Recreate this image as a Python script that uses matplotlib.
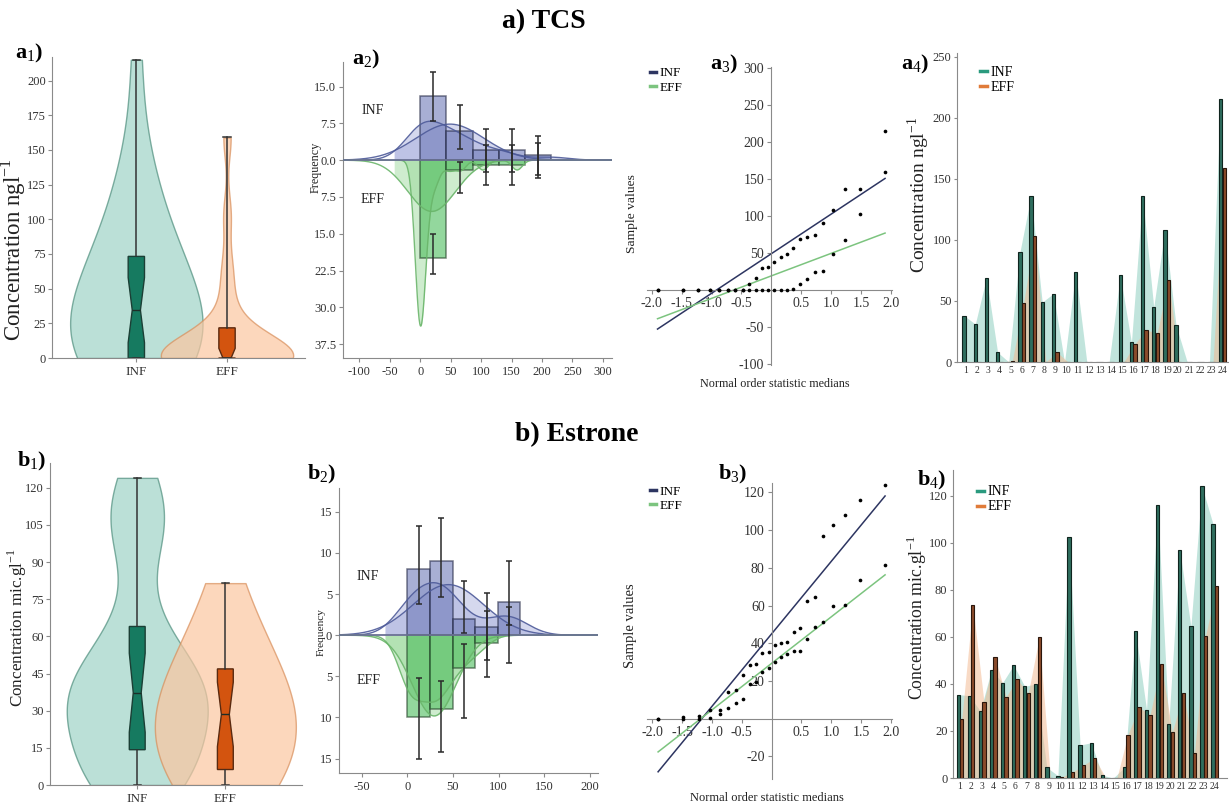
import numpy as np
import matplotlib
matplotlib.use("Agg")
import matplotlib.pyplot as plt
from matplotlib import cbook
from matplotlib.lines import Line2D
from statistics import NormalDist

# ---------------- data ----------------
samples = np.arange(1, 25)
groups = ["INF", "EFF"]

tcs_inf = [38, 31, 69, 8, 0, 90, 136, 49, 56, 0, 74, 0, 0, 0, 71, 16, 136, 45, 108, 30, 0, 0, 0, 215]
tcs_eff = [0, 0, 0, 0, 1, 48, 103, 0, 8, 0, 0, 0, 0, 0, 0, 15, 26, 24, 67, 0, 0, 0, 0, 159]

est_inf = [35.5, 35, 28.5, 46, 40.5, 48, 39, 40, 4.5, 1, 102.5, 14, 15, 1.2, 0, 4.5,
           62.5, 29, 116, 23, 97, 64.5, 124, 108]
est_eff = [25, 73.5, 32.5, 51.5, 34.5, 42, 36, 60, 0, 0.3, 2.5, 5.5, 8.5, 0, 0, 18.5,
           30, 27, 48.5, 19.5, 36, 10.5, 60.5, 81.5]

# error-bar ends (lower, upper) for each histogram bin; EFF is mirrored below zero
tcs_inf_err_lo = [8.0, 2.2, -2.4, -2.4, -3.0]
tcs_inf_err_hi = [17.9, 11.3, 6.4, 6.4, 5.0]
tcs_eff_err_lo = [-23.1, -6.6, -5.1, -5.1, -3.6]
tcs_eff_err_hi = [-15.1, -0.3, 3.0, 3.0, 3.6]

est_inf_err_lo = [3.8, 4.6, 0.3, -3.0, 1.3]
est_inf_err_hi = [13.3, 14.3, 6.6, 5.1, 9.0]
est_eff_err_lo = [-15.1, -14.2, -10.1, -5.1, -3.4]
est_eff_err_hi = [-5.2, -5.6, -1.1, 3.0, 3.4]

# ---------------- style ----------------
plt.rcParams["font.family"] = ["Liberation Serif", "DejaVu Serif"]
plt.rcParams["mathtext.fontset"] = "custom"
plt.rcParams["mathtext.rm"] = "Liberation Serif"
plt.rcParams["mathtext.bf"] = "Liberation Serif:bold"
plt.rcParams["axes.unicode_minus"] = False
plt.rcParams["axes.edgecolor"] = "#8a8a8a"
plt.rcParams["xtick.color"] = "#8a8a8a"
plt.rcParams["ytick.color"] = "#8a8a8a"
plt.rcParams["xtick.labelcolor"] = "#333333"
plt.rcParams["ytick.labelcolor"] = "#333333"
plt.rcParams["xtick.major.size"] = 3
plt.rcParams["ytick.major.size"] = 3
plt.rcParams["xtick.major.pad"] = 2.5
plt.rcParams["ytick.major.pad"] = 2

W, H = 1229, 805
fig = plt.figure(figsize=(W / 100, H / 100), dpi=100)
LABEL = "#222222"


def add_axes(x0, y0, x1, y1):
    return fig.add_axes([x0 / W, 1 - y1 / H, (x1 - x0) / W, (y1 - y0) / H])


def clean(ax):
    ax.spines["top"].set_visible(False)
    ax.spines["right"].set_visible(False)


def ylabel_at(ax, text, size, x, y):
    ax.set_ylabel(text, fontsize=size, color=LABEL)
    ax.yaxis.set_label_coords(x, y)


def robust_bw(x):
    """Normal-reference bandwidth using the smaller of SD and IQR/1.34."""
    x = np.asarray(x, float)
    sd = x.std(ddof=1)
    q25, q75 = np.percentile(x, [25, 75], method="weibull")
    iqr = (q75 - q25) / 1.34
    spread = min(sd, iqr) if iqr > 0 else sd
    return spread * len(x) ** -0.2


def gauss_kde(x, grid, bw):
    x = np.asarray(x, float)
    z = (grid[:, None] - x[None, :]) / bw
    return np.exp(-0.5 * z ** 2).sum(1) / (len(x) * bw * np.sqrt(2 * np.pi))


def normal_pdf(x, grid):
    x = np.asarray(x, float)
    mu, sd = x.mean(), x.std(ddof=1)
    return np.exp(-0.5 * ((grid - mu) / sd) ** 2) / (sd * np.sqrt(2 * np.pi))


def order_medians(n):
    m = np.empty(n)
    m[-1] = 0.5 ** (1.0 / n)
    m[0] = 1 - m[-1]
    i = np.arange(2, n)
    m[1:-1] = (i - 0.3175) / (n + 0.365)
    nd = NormalDist()
    return np.array([nd.inv_cdf(v) for v in m])


# ---------------- violin + notched box ----------------
def violin_panel(ax, inf, eff, width, bws, ylim, yticks, xlim):
    data = [np.asarray(inf, float), np.asarray(eff, float)]
    styles = [("#9fd4c6", "#4e8e7d"), ("#fcc6a0", "#d88e5a")]
    for pos, vals, bw, (fc, ec) in zip([0, 1], data, bws, styles):
        parts = ax.violinplot([vals], positions=[pos], widths=width, showextrema=False,
                              bw_method=bw / vals.std(ddof=1))
        for body in parts["bodies"]:
            body.set_facecolor(fc)
            body.set_edgecolor(ec)
            body.set_alpha(0.7)
            body.set_linewidth(1.0)

    # box statistics with Weibull quartiles and whiskers at the extremes
    stats = cbook.boxplot_stats(data, whis=(0, 100))
    for st, vals in zip(stats, data):
        q1, q3 = np.percentile(vals, [25, 75], method="weibull")
        st["q1"], st["q3"] = q1, q3
        half = 1.57 * (q3 - q1) / np.sqrt(len(vals))
        st["cilo"], st["cihi"] = st["med"] - half, st["med"] + half
    bp = ax.bxp(stats, positions=[0, 1], widths=0.18, shownotches=True, patch_artist=True,
                showfliers=False,
                medianprops=dict(color="#1c2e28", lw=1.0),
                whiskerprops=dict(color="#333333", lw=1.1),
                capprops=dict(color="#333333", lw=1.1),
                boxprops=dict(lw=1.0))
    for patch, fc, ec in zip(bp["boxes"], ["#167a60", "#d3540f"], ["#1b3f35", "#5a2a10"]):
        patch.set_facecolor(fc)
        patch.set_edgecolor(ec)
    for cap in bp["caps"]:
        c = np.mean(cap.get_xdata())
        cap.set_xdata([c - 0.04, c + 0.04])
    clean(ax)
    ax.set_xlim(*xlim)
    ax.set_ylim(*ylim)
    ax.set_yticks(yticks)
    ax.set_xticks([0, 1])
    ax.set_xticklabels(groups)
    ax.tick_params(labelsize=9.5)
    ax.tick_params(axis="y", labelsize=9, pad=1.5)


# ---------------- mirrored histogram ----------------
def mirror_hist(ax, inf, eff, errs, xlim, xticks, ylim, yticks, ylabels, txt_x, txt_y):
    inf = np.asarray(inf, float)
    eff = np.asarray(eff, float)
    top = max(inf.max(), eff.max())
    edges = np.linspace(0, top, 6)
    bw = edges[1] - edges[0]
    centers = (edges[:-1] + edges[1:]) / 2
    n_inf, _ = np.histogram(inf, edges)
    n_eff, _ = np.histogram(eff, edges)

    grid = np.linspace(xlim[0], xlim[1], 800)
    for vals, sign, fill, line in [(inf, 1, "#a3aadb", "#4d5a99"),
                                   (eff, -1, "#93d693", "#6ab56a")]:
        scale = len(vals) * bw
        lo, hi = vals.min() - bw, vals.max() + bw
        inside = (grid >= lo) & (grid <= hi)
        for curve in (gauss_kde(vals, grid, robust_bw(vals)), normal_pdf(vals, grid)):
            y = sign * curve * scale
            ax.fill_between(grid[inside], 0, y[inside], color=fill, alpha=0.45, lw=0, zorder=2)
            ax.plot(grid, y, color=line, lw=1.0, alpha=0.9, zorder=4)

    ax.bar(edges[:-1], n_inf, width=bw, align="edge", color="#6f7bb8", alpha=0.6,
           edgecolor="#1f2440", lw=1.1, zorder=3)
    ax.bar(edges[:-1], -n_eff, width=bw, align="edge", color="#4cbd5c", alpha=0.6,
           edgecolor="#1e3a22", lw=1.1, zorder=3)
    ax.axhline(0, color="#6b7294", lw=1.3, zorder=5)

    for lo_v, hi_v in errs:
        lo_v = np.asarray(lo_v, float)
        hi_v = np.asarray(hi_v, float)
        mid = (lo_v + hi_v) / 2
        ax.errorbar(centers, mid, yerr=[mid - lo_v, hi_v - mid], fmt="none",
                    ecolor="#2a2a2a", elinewidth=1.1, capsize=2, capthick=1.1, zorder=6)

    clean(ax)
    ax.set_xlim(*xlim)
    ax.set_xticks(xticks)
    ax.set_ylim(*ylim)
    ax.set_yticks(yticks)
    ax.set_yticklabels(ylabels)
    ax.tick_params(labelsize=9)
    ax.text(txt_x, txt_y[0], "INF", fontsize=10, color=LABEL, ha="center", va="center")
    ax.text(txt_x, txt_y[1], "EFF", fontsize=10, color=LABEL, ha="center", va="center")


# ---------------- probability plot ----------------
def qq_panel(ax, inf, eff, xlim, ylim, yticks, xlab_pos, xlab_size, leg_y):
    for vals, col in [(inf, "#2d3561"), (eff, "#7cc47f")]:
        v = np.sort(np.asarray(vals, float))
        osm = order_medians(len(v))
        slope, icpt = np.polyfit(osm, v, 1)
        ends = np.array([osm[0], osm[-1]])
        ax.plot(ends, slope * ends + icpt, color=col, lw=1.1, zorder=2)
        ax.scatter(osm, v, s=7, color="black", zorder=3, linewidths=0)
    ax.spines["left"].set_position(("data", 0))
    ax.spines["bottom"].set_position(("data", 0))
    clean(ax)
    ax.set_xlim(*xlim)
    ax.set_ylim(*ylim)
    xt = [-2.0, -1.5, -1.0, -0.5, 0.5, 1.0, 1.5, 2.0]
    ax.set_xticks(xt)
    ax.set_xticklabels([f"{t:.1f}" for t in xt])
    ax.set_yticks(yticks)
    ax.tick_params(labelsize=10)
    ax.set_xlabel("Normal order statistic medians", fontsize=xlab_size, color=LABEL)
    ax.xaxis.set_label_coords(*xlab_pos)
    handles = [Line2D([], [], color="#2d3561", lw=2.5), Line2D([], [], color="#7cc47f", lw=2.5)]
    ax.legend(handles, groups, loc="upper left", bbox_to_anchor=(-0.01, leg_y), frameon=False,
              fontsize=9.5, handlelength=0.45, handletextpad=0.3, labelspacing=0.15,
              borderaxespad=0)


# ---------------- bars per sample ----------------
def sample_bars(ax, inf, eff, ylim, yticks, xlim, leg_anchor):
    off, w = 0.16, 0.3
    ax.fill_between(samples - off, 0, inf, color="#8ecfc0", alpha=0.55, lw=0, zorder=1)
    ax.fill_between(samples + off, 0, eff, color="#f3b68c", alpha=0.5, lw=0, zorder=1)
    ax.bar(samples - off, inf, width=w, color="#2f6e5e", edgecolor="#0f241e", lw=0.8, zorder=3)
    ax.bar(samples + off, eff, width=w, color="#8b4b2b", edgecolor="#2a160c", lw=0.8, zorder=3)
    clean(ax)
    ax.set_xlim(*xlim)
    ax.set_ylim(*ylim)
    ax.set_yticks(yticks)
    ax.set_xticks(samples)
    ax.set_xticklabels([str(s) for s in samples])
    ax.tick_params(axis="x", labelsize=7, length=0, pad=3)
    ax.tick_params(axis="y", labelsize=9, length=2.5, pad=1.5)
    handles = [Line2D([], [], color="#2a9a7e", lw=2.5), Line2D([], [], color="#e07b39", lw=2.5)]
    ax.legend(handles, groups, loc="upper left", bbox_to_anchor=leg_anchor, frameon=False,
              fontsize=10, handlelength=0.45, handletextpad=0.3, labelspacing=0.15,
              borderaxespad=0)


# ---------------- row a) TCS ----------------
ax = add_axes(52, 57, 305, 358)
violin_panel(ax, tcs_inf, tcs_eff, 1.46, (40, 15), (0, 217), np.arange(0, 201, 25),
             (-0.93, 1.86))
ylabel_at(ax, r"Concentration ngl$^{-1}$", 16.5, -0.095, 0.36)

ax = add_axes(343, 62, 612, 358)
mirror_hist(ax, tcs_inf, tcs_eff,
            [(tcs_inf_err_lo, tcs_inf_err_hi), (tcs_eff_err_lo, tcs_eff_err_hi)],
            (-127, 315), np.arange(-100, 301, 50),
            (-40.3, 20), [15, 7.5, 0, -7.5, -15, -22.5, -30, -37.5],
            ["15.0", "7.5", "0.0", "7.5", "15.0", "22.5", "30.0", "37.5"],
            -78, (10.2, -8.1))
ylabel_at(ax, "Frequency", 8.7, -0.078, 0.645)

ax = add_axes(647, 67, 892, 365)
qq_panel(ax, tcs_inf, tcs_eff, (-2.08, 2.02), (-102, 302),
         [-100, -50, 50, 100, 150, 200, 250, 300], (0.52, -0.044), 8.7, 1.017)
ylabel_at(ax, "Sample values", 9.7, -0.037, 0.507)

ax = add_axes(957, 53, 1228, 362)
sample_bars(ax, tcs_inf, tcs_eff, (0, 253), np.arange(0, 251, 50), (0.2, 24.5),
            (0.066, 0.977))
ylabel_at(ax, r"Concentration ngl$^{-1}$", 14, -0.092, 0.54)

# ---------------- row b) Estrone ----------------
ax = add_axes(50, 463, 302, 785)
violin_panel(ax, est_inf, est_eff, 1.6, (17, 21), (0, 130), np.arange(0, 121, 15),
             (-0.99, 1.87))
ylabel_at(ax, r"Concentration mic.gl$^{-1}$", 12.3, -0.084, 0.49)

ax = add_axes(339, 488, 598, 773)
mirror_hist(ax, est_inf, est_eff,
            [(est_inf_err_lo, est_inf_err_hi), (est_eff_err_lo, est_eff_err_hi)],
            (-75, 209), np.arange(-50, 201, 50),
            (-16.75, 17.9), [15, 10, 5, 0, -5, -10, -15],
            ["15", "10", "5", "0", "5", "10", "15"], -43, (7.1, -5.5))
ylabel_at(ax, "Frequency", 8.2, -0.05, 0.495)

ax = add_axes(647, 483, 892, 779)
qq_panel(ax, est_inf, est_eff, (-2.09, 2.02), (-32, 125),
         [-20, 20, 40, 60, 80, 100, 120], (0.49, -0.044), 9, 1.01)
ylabel_at(ax, "Sample values", 10.5, -0.041, 0.517)

ax = add_axes(953, 470, 1227, 778)
sample_bars(ax, est_inf, est_eff, (0, 131), np.arange(0, 121, 20), (0.37, 25.1),
            (0.069, 0.968))
ylabel_at(ax, r"Concentration mic.gl$^{-1}$", 12.8, -0.088, 0.52)

# ---------------- titles and panel tags ----------------
fig.text(544 / W, 1 - 22 / H, "a) TCS", fontsize=20, fontweight="bold", ha="center", va="center")
fig.text(577 / W, 1 - 435 / H, "b) Estrone", fontsize=20, fontweight="bold", ha="center", va="center")

tags = [("a", "1", 15, 53), ("a", "2", 352, 59), ("a", "3", 710, 64), ("a", "4", 901, 64),
        ("b", "1", 17, 461), ("b", "2", 307, 474), ("b", "3", 718, 474), ("b", "4", 917, 480)]
for letter, digit, x, y in tags:
    fig.text(x / W, 1 - y / H, rf"$\mathbf{{{letter}}}_{{\mathrm{{{digit}}}}}\mathbf{{)}}$",
             fontsize=16, ha="left", va="center")

fig.savefig("out.png", dpi=100)
